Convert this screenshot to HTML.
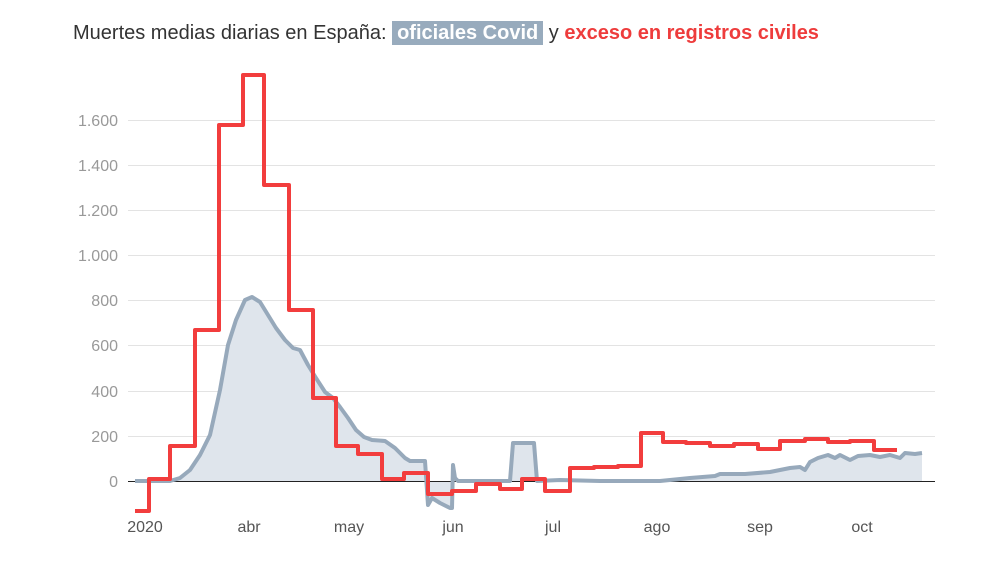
<!DOCTYPE html><html><head><meta charset="utf-8"><style>
body{margin:0;background:#fff;width:1000px;height:563px;overflow:hidden;font-family:"Liberation Sans",sans-serif}
.t{position:absolute;left:73px;top:22px;font-size:20px;color:#333;white-space:nowrap}
.b{background:#98abbd;color:#fff;font-weight:bold;padding:1px 5px}
.r{color:#ee3c3c;font-weight:bold}
</style></head><body>
<div class="t">Muertes medias diarias en España: <span class="b">oficiales Covid</span> y <span class="r">exceso en registros civiles</span></div>
<svg width="1000" height="563" style="position:absolute;left:0;top:0">
<g stroke="#e3e3e3" stroke-width="1">
<line x1="128" x2="935" y1="120.5" y2="120.5"/><line x1="128" x2="935" y1="165.5" y2="165.5"/><line x1="128" x2="935" y1="210.5" y2="210.5"/><line x1="128" x2="935" y1="255.5" y2="255.5"/><line x1="128" x2="935" y1="300.5" y2="300.5"/><line x1="128" x2="935" y1="345.5" y2="345.5"/><line x1="128" x2="935" y1="391.5" y2="391.5"/><line x1="128" x2="935" y1="436.5" y2="436.5"/></g>
<g font-size="16" fill="#999" text-anchor="end">
<text x="118" y="126">1.600</text><text x="118" y="171">1.400</text><text x="118" y="216">1.200</text><text x="118" y="261">1.000</text><text x="118" y="306">800</text><text x="118" y="351">600</text><text x="118" y="397">400</text><text x="118" y="442">200</text><text x="118" y="487">0</text></g>
<g font-size="16" fill="#555" text-anchor="middle">
<text x="145" y="532">2020</text><text x="249" y="532">abr</text><text x="349" y="532">may</text><text x="453" y="532">jun</text><text x="553" y="532">jul</text><text x="657" y="532">ago</text><text x="760" y="532">sep</text><text x="862" y="532">oct</text></g>
<polygon fill="#dfe5ec" points="135,481 170,481 180,478 190,470 200,455 210,435 220,390 228,345 236,320 245,300 252,297 260,302 268,315 276,328 285,340 293,348 300,350 308,365 316,378 325,392 333,398 340,407 348,418 356,430 364,437 372,440 385,441 395,448 405,458 410,461 425,461 428,505 432,498 440,503 450,508 452,508 453,465 455,478 458,481 510,481 513,443 534,443 537,481 560,480 600,481 660,481 690,478 715,476 720,474 745,474 770,472 790,468 800,467 805,470 810,462 818,458 828,455 835,458 840,455 850,460 858,456 870,455 880,457 890,455 900,458 905,453 915,454 922,453 922,481"/>
<line x1="128" x2="935" y1="481.5" y2="481.5" stroke="#222" stroke-width="1"/>
<polyline fill="none" stroke="#97a9bb" stroke-width="4" stroke-linejoin="round" points="135,481 170,481 180,478 190,470 200,455 210,435 220,390 228,345 236,320 245,300 252,297 260,302 268,315 276,328 285,340 293,348 300,350 308,365 316,378 325,392 333,398 340,407 348,418 356,430 364,437 372,440 385,441 395,448 405,458 410,461 425,461 428,505 432,498 440,503 450,508 452,508 453,465 455,478 458,481 510,481 513,443 534,443 537,481 560,480 600,481 660,481 690,478 715,476 720,474 745,474 770,472 790,468 800,467 805,470 810,462 818,458 828,455 835,458 840,455 850,460 858,456 870,455 880,457 890,455 900,458 905,453 915,454 922,453"/>
<polyline fill="none" stroke="#f23d3d" stroke-width="4" stroke-linejoin="round" points="135,511 149,511 149,479 170,479 170,446 195,446 195,330 219,330 219,125 243,125 243,75 264,75 264,185 289,185 289,310 313,310 313,398 336,398 336,446 358,446 358,454 382,454 382,479 404,479 404,473 428,473 428,494 452,494 452,491 476,491 476,484 500,484 500,489 522,489 522,479 545,479 545,491 570,491 570,468 594,468 594,467 618,467 618,466 641,466 641,433 663,433 663,442 686,442 686,443 710,443 710,446 734,446 734,444 758,444 758,449 780,449 780,441 805,441 805,439 828,439 828,442 850,442 850,441 874,441 874,450 897,450"/>
</svg>
</body></html>
